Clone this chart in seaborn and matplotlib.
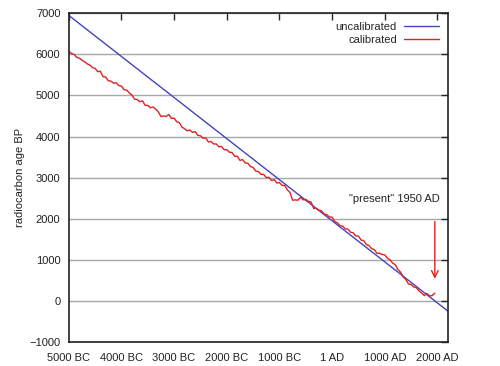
import numpy as np
import pandas as pd
import matplotlib
matplotlib.use("Agg")
import matplotlib.pyplot as plt
import seaborn as sns

# calibrated curve: calendar year (negative = BC) vs radiocarbon age BP
cal_year = [-5000, -4950, -4900, -4850, -4800, -4750, -4700, -4650, -4600, -4550,
            -4500, -4450, -4400, -4350, -4300, -4250, -4200, -4150, -4100, -4050,
            -4000, -3950, -3900, -3850, -3800, -3750, -3700, -3650, -3600, -3550,
            -3500, -3450, -3400, -3350, -3300, -3250, -3200, -3150, -3100, -3050,
            -3000, -2950, -2900, -2850, -2800, -2750, -2700, -2650, -2600, -2550,
            -2500, -2450, -2400, -2350, -2300, -2250, -2200, -2150, -2100, -2050,
            -2000, -1950, -1900, -1850, -1800, -1750, -1700, -1650, -1600, -1550,
            -1500, -1450, -1400, -1350, -1300, -1250, -1200, -1150, -1100, -1050,
            -1000, -950, -900, -850, -800, -750, -700, -650, -600, -550,
            -500, -450, -400, -350, -300, -250, -200, -150, -100, -50,
            0, 50, 100, 150, 200, 250, 300, 350, 400, 450,
            500, 550, 600, 650, 700, 750, 800, 850, 900, 950,
            1000, 1050, 1100, 1150, 1200, 1250, 1300, 1350, 1400, 1450,
            1500, 1550, 1600, 1650, 1700, 1750, 1800, 1850, 1900, 1950]
cal_age = [6080, 6020, 6000, 5930, 5910, 5860, 5820, 5770, 5740, 5680,
           5660, 5580, 5590, 5460, 5450, 5360, 5350, 5300, 5310, 5240,
           5230, 5140, 5130, 5060, 5010, 4910, 4900, 4850, 4870, 4760,
           4760, 4700, 4720, 4670, 4600, 4490, 4500, 4490, 4540, 4440,
           4450, 4360, 4340, 4230, 4190, 4140, 4160, 4100, 4120, 4030,
           4020, 3960, 3970, 3870, 3880, 3820, 3820, 3750, 3760, 3680,
           3680, 3620, 3610, 3520, 3520, 3420, 3440, 3360, 3350, 3270,
           3250, 3160, 3150, 3080, 3080, 3000, 3010, 2930, 2950, 2870,
           2880, 2810, 2810, 2700, 2640, 2450, 2460, 2450, 2520, 2460,
           2470, 2420, 2410, 2250, 2250, 2210, 2190, 2110, 2100, 2040,
           2040, 1930, 1900, 1830, 1820, 1750, 1750, 1670, 1660, 1580,
           1580, 1480, 1470, 1370, 1350, 1270, 1250, 1160, 1160, 1130,
           1120, 1040, 1000, 920, 880, 760, 700, 580, 520, 410,
           400, 340, 320, 240, 190, 130, 180, 120, 130, 190]

# uncalibrated: straight line
uncal_year = [-5000, 2200]
uncal_age = [6950, -250]

xtick_pos = [-5000, -4000, -3000, -2000, -1000, 0, 1000, 2000]
xtick_lab = ["5000 BC", "4000 BC", "3000 BC", "2000 BC", "1000 BC", "1 AD", "1000 AD", "2000 AD"]
ytick_pos = [-1000, 0, 1000, 2000, 3000, 4000, 5000, 6000, 7000]

cal_df = pd.DataFrame({"year": cal_year, "age": cal_age})
uncal_df = pd.DataFrame({"year": uncal_year, "age": uncal_age})

sns.set_style("white")
plt.rcParams["font.family"] = ["Liberation Sans", "DejaVu Sans"]

fig = plt.figure(figsize=(5, 3.66), dpi=100)
ax = fig.add_axes([0.1375, 0.0656, 0.7585, 0.898])

ax.grid(axis="y", color="#a8a8a8", lw=1)
ax.set_axisbelow(True)

sns.lineplot(x="year", y="age", data=uncal_df, ax=ax, color="#4444bb", lw=1, label="uncalibrated")
sns.lineplot(x="year", y="age", data=cal_df, ax=ax, color="#dd2222", lw=1, label="calibrated")

ax.annotate("", xy=(1950, 470), xytext=(1950, 2000),
            arrowprops=dict(arrowstyle="->", color="#dd2222", lw=1, mutation_scale=12))
ax.text(2050, 2480, '"present" 1950 AD', ha="right", va="center", fontsize=8, color="#222222")

ax.set_xlim(-5000, 2200)
ax.set_ylim(-1000, 7000)
ax.set_xticks(xtick_pos)
ax.set_xticklabels(xtick_lab)
ax.set_yticks(ytick_pos)
ax.set_xlabel("")
ax.set_ylabel("radiocarbon age BP", fontsize=8, color="#222222", labelpad=3)
ax.tick_params(direction="in", top=True, right=True, length=5, width=1,
               labelsize=8, labelcolor="#222222", pad=6)
ax.tick_params(axis="x", pad=8)
for s in ax.spines.values():
    s.set_color("#222222")
    s.set_linewidth(1.2)

ax.legend(loc="upper right", frameon=False, markerfirst=False, fontsize=8,
          handlelength=3.2, labelspacing=0.25, borderaxespad=0.4, handletextpad=0.6)

fig.savefig("out.png", dpi=100)
